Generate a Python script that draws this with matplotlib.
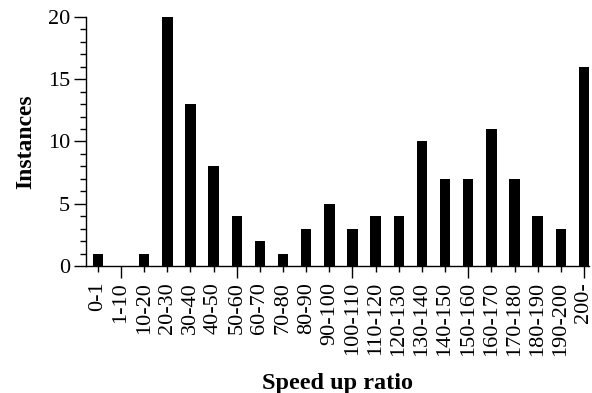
import numpy as np
import matplotlib.pyplot as plt
from matplotlib.ticker import MultipleLocator

bins = ["0-1", "1-10", "10-20", "20-30", "30-40", "40-50", "50-60", "60-70",
        "70-80", "80-90", "90-100", "100-110", "110-120", "120-130", "130-140",
        "140-150", "150-160", "160-170", "170-180", "180-190", "190-200", "200-"]
counts = [1, 0, 1, 20, 13, 8, 4, 2, 1, 3, 5, 3, 4, 4, 10, 7, 7, 11, 7, 4, 3, 16]

plt.rcParams['font.family'] = ['Liberation Serif', 'DejaVu Serif']

fig = plt.figure(figsize=(5.92, 3.93), dpi=100)
ax = fig.add_axes([0.145, 0.323, 0.85, 0.634])

x = np.arange(len(bins))
ax.bar(x, counts, width=0.45, color='black')

ax.set_xlim(-0.52, len(bins) - 0.78)
ax.set_ylim(0, 20)
ax.spines['top'].set_visible(False)
ax.spines['right'].set_visible(False)
for s in ('left', 'bottom'):
    ax.spines[s].set_linewidth(1.0)

ax.yaxis.set_major_locator(MultipleLocator(5))
ax.yaxis.set_minor_locator(MultipleLocator(1))
ax.tick_params(axis='y', which='major', length=8.5, width=1.0, labelsize=16, pad=3)
ax.tick_params(axis='y', which='minor', length=4.3, width=1.0)

ax.set_xticks(x)
ax.set_xticklabels(bins, rotation=90, fontsize=16)
ax.tick_params(axis='x', which='major', length=4.3, width=1.0, pad=7)
for i, t in enumerate(ax.xaxis.get_major_ticks()):
    if i % 5 == 1:
        t.tick1line.set_markersize(8.5)

ax.set_ylabel("Instances", fontsize=17, fontweight='bold', labelpad=8)
ax.set_xlabel("Speed up ratio", fontsize=17.5, fontweight='bold', labelpad=12)

fig.savefig("out.png", dpi=100)
